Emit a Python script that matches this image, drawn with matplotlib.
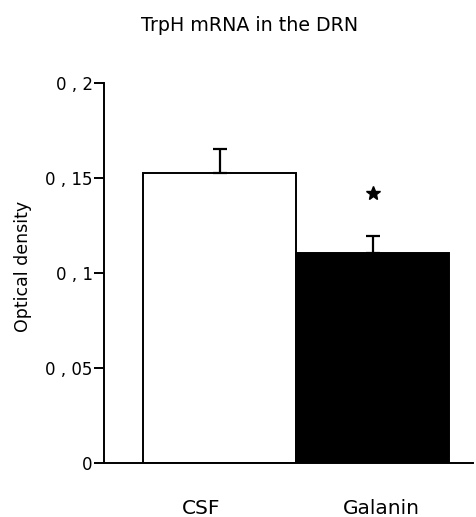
import numpy as np
import matplotlib
matplotlib.use("Agg")
import matplotlib.pyplot as plt
from matplotlib.ticker import FixedLocator

# =========================
# Data
# =========================
groups = ["CSF", "Galanin"]
density = [0.1525, 0.1105]
sem = [0.013, 0.009]
bar_colors = ["white", "black"]
star_group = 1
star_value = 0.142
y_ticks = [0, 0.05, 0.1, 0.15, 0.2]
y_tick_labels = ["0", "0 , 05", "0 , 1", "0 , 15", "0 , 2"]

plt.rcParams['font.family'] = ['DejaVu Sans']

fig = plt.figure(figsize=(4.77, 5.17), dpi=100)
ax = fig.add_axes([0.218, 0.1044, 0.774, 0.7351])

x = np.arange(len(groups))
ax.bar(x, density, width=1.0, color=bar_colors, edgecolor="black", linewidth=1.4)
ax.errorbar(x, density, yerr=[np.zeros(len(sem)), sem], fmt="none",
            ecolor="black", elinewidth=1.6, capsize=4.7, capthick=1.6)

# significance star
ax.plot(star_group, star_value, marker="*", color="black", markersize=10, linestyle="none")

ax.set_xlim(-0.755, 1.657)
ax.set_ylim(0, 0.2)
ax.yaxis.set_major_locator(FixedLocator(y_ticks))
ax.set_yticklabels(y_tick_labels)
ax.set_xticks([])

# group labels sit slightly off-centre in the original
label_offsets = [-0.12, 0.06]
for xi, name, off in zip(x, groups, label_offsets):
    ax.text(xi + off, -0.0268, name, ha="center", va="baseline", fontsize=14.5)

for side in ["top", "right"]:
    ax.spines[side].set_visible(False)
for side in ["left", "bottom"]:
    ax.spines[side].set_linewidth(1.4)
ax.tick_params(axis="y", direction="out", length=7, width=1.4, labelsize=12, pad=1)

ax.set_ylabel("Optical density", fontsize=12.5)
ax.yaxis.set_label_coords(-0.195, 0.516)
fig.text(0.524, 1 - 31 / 517, "TrpH mRNA in the DRN", ha="center", va="baseline", fontsize=13.7)

fig.savefig("out.png", dpi=100)
